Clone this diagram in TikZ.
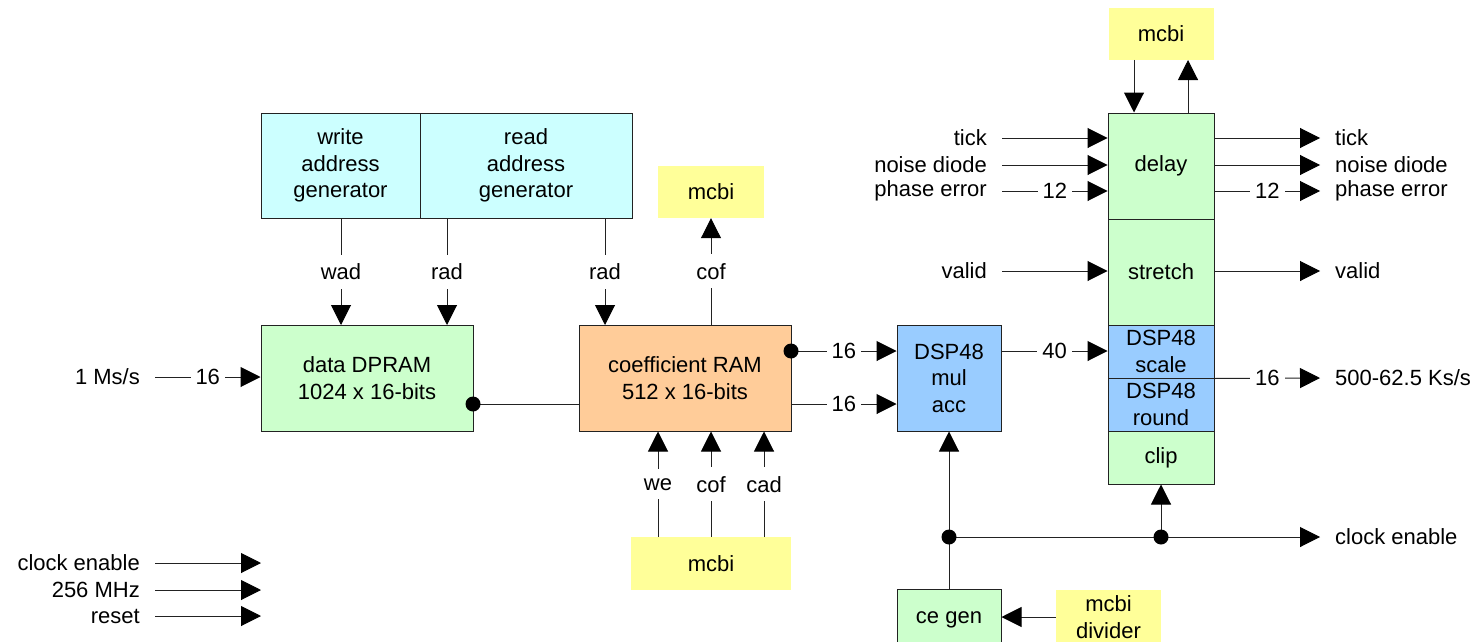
\documentclass[tikz,border=0pt]{standalone}
\usepackage{fontspec}
\setmainfont{Liberation Sans}
\usetikzlibrary{arrows.meta,calc}
\definecolor{cgreen}{HTML}{CCFFCC}
\definecolor{ccyan}{HTML}{CCFFFF}
\definecolor{corange}{HTML}{FFCC99}
\definecolor{cblue}{HTML}{99CCFF}
\definecolor{cyellow}{HTML}{FFFF99}
\definecolor{cline}{HTML}{222222}
\tikzset{
  box/.style={draw=cline, line width=1pt, align=center, inner sep=0pt},
  ybox/.style={fill=cyellow, align=center, inner sep=0pt},
  conn/.style={draw=cline, line width=1pt},
  arr/.style={conn, -{Triangle[length=20pt,width=20pt,fill=black,color=black]}},
  lab/.style={fill=white, inner xsep=5pt, inner ysep=9pt},
  hlab/.style={fill=white, inner xsep=5pt, inner ysep=2pt},
  txt/.style={inner sep=0pt},
  dot/.style={circle, fill=black, inner sep=0pt, minimum size=15pt},
}
\begin{document}
\begin{tikzpicture}[x=1pt,y=-1pt,font=\fontsize{22}{26.5}\selectfont]
\useasboundingbox (0,0) rectangle (1480,642);
% blocks
\node[box, fill=ccyan, minimum width=159pt, minimum height=105pt] (wgen) at (340.5,165.5) {write\\address\\generator};
\node[box, fill=ccyan, minimum width=212pt, minimum height=105pt] (rgen) at (526,165.5) {read\\address\\generator};
\node[box, fill=cgreen, minimum width=212pt, minimum height=106pt] (dpram) at (367,378) {data DPRAM\\1024 x 16-bits};
\node[box, fill=corange, minimum width=212pt, minimum height=106pt] (coef) at (685,378) {coefficient RAM\\512 x 16-bits};
\node[ybox, minimum width=106pt, minimum height=52pt] (mcbiA) at (711,192) {mcbi};
\node[ybox, minimum width=160pt, minimum height=53pt] (mcbiB) at (711,563.5) {mcbi};
\node[box, fill=cblue, minimum width=104pt, minimum height=106pt] (dsp) at (949,378) {DSP48\\mul\\acc};
\node[ybox, minimum width=105pt, minimum height=52pt] (mcbiC) at (1161,34) {mcbi};
\node[box, fill=cgreen, minimum width=106pt, minimum height=106pt] (delay) at (1161,166) {delay};
\node[box, fill=cgreen, minimum width=106pt, minimum height=106pt] (stretch) at (1161,272) {stretch};
\node[box, fill=cblue, minimum width=106pt, minimum height=53pt] (scale) at (1161,351.5) {DSP48\\scale};
\node[box, fill=cblue, minimum width=106pt, minimum height=53pt] (round) at (1161,404.5) {DSP48\\round};
\node[box, fill=cgreen, minimum width=106pt, minimum height=53pt] (clip) at (1161,457.5) {clip};
\node[box, fill=cgreen, minimum width=104pt, minimum height=60pt] (cegen) at (949,619.5) {ce gen};
\node[ybox, minimum width=105pt, minimum height=54pt] (mcbiD) at (1108.5,617) {mcbi\\divider};

% address lines
\coordinate (wadT) at (341,325);
\coordinate (radT) at (447,325);
\coordinate (radC) at (605,325);
\draw[arr] (wgen.south -| wadT) -- node[lab]{wad} (wadT);
\draw[arr] (rgen.south -| radT) -- node[lab]{rad} (radT);
\draw[arr] (rgen.south -| radC) -- node[lab]{rad} (radC);
\draw[arr] (coef.north -| mcbiA.south) -- node[lab]{cof} (mcbiA.south);

% bottom mcbi to coef
\coordinate (weB) at (658,537);
\coordinate (cadB) at (764,537);
\draw[arr] (weB) -- node[lab]{we} (coef.south -| weB);
\draw[arr] (mcbiB.north) -- node[lab]{cof} (coef.south -| mcbiB.north);
\draw[arr] (cadB) -- node[lab]{cad} (coef.south -| cadB);

% data path
\coordinate (d1) at (473,404);
\draw[conn] (d1) -- (coef.west |- d1);
\node[dot] (dotA) at (d1) {};
\node[txt, anchor=east] (ms) at (140,377) {1 Ms/s};
\coordinate (msS) at (155,377);
\draw[arr] (msS) -- node[hlab]{16} (dpram.west |- msS);
\coordinate (c1) at (791,351);
\coordinate (c2) at (791,404);
\draw[arr] (c1) -- node[hlab]{16} (dsp.west |- c1);
\node[dot] (dotB) at (c1) {};
\draw[arr] (c2) -- node[hlab]{16} (dsp.west |- c2);
\draw[arr] (dsp.east |- c1) -- node[hlab]{40} (scale.west |- c1);
\coordinate (o16) at (1320,378);
\draw[arr] (scale.south east) -- node[hlab]{16} (o16);
\node[txt, anchor=west] (ks) at (1335,378) {500-62.5 Ks/s};

% clock enable
\coordinate (ceL) at (949,537);
\coordinate (ceR) at (1161,537);
\coordinate (ceE) at (1320,537);
\draw[arr] (cegen.north) -- (dsp.south);
\draw[arr] (ceL) -- (ceE);
\draw[arr] (ceR) -- (clip.south);
\node[dot] (dotC) at (ceL) {};
\node[dot] (dotD) at (ceR) {};
\node[txt, anchor=west] (ceT) at (1335,537) {clock enable};
\draw[arr] (mcbiD.west |- mcbiD.center) -- (cegen.east |- mcbiD.center);

% mcbi top <-> delay
\coordinate (mdn) at (1134,60);
\coordinate (mup) at (1188,60);
\draw[arr] (mdn) -- (delay.north -| mdn);
\draw[arr] (delay.north -| mup) -- (mup);

% left inputs to right column
\foreach \n/\y/\t in {iTick/138/tick, iNoise/165/noise diode, iValid/271/valid}{
  \node[txt, anchor=east] (\n) at (987,\y) {\t};
  \coordinate (\n s) at (1002,\y);
  \draw[arr] (\n s) -- (delay.west |- \n s);
}
\node[txt, anchor=east] (iPhase) at (987,191) {phase error};
\coordinate (iPhases) at (1002,191);
\draw[arr] (iPhases) -- node[hlab]{12} (delay.west |- iPhases);

% outputs
\foreach \n/\y/\t in {oTick/138/tick, oNoise/165/noise diode, oValid/271/valid}{
  \node[txt, anchor=west] (\n) at (1335,\y) {\t};
  \coordinate (\n e) at (1320,\y);
  \draw[arr] (delay.east |- \n e) -- (\n e);
}
\node[txt, anchor=west] (oPhase) at (1335,191) {phase error};
\coordinate (oPhasee) at (1320,191);
\draw[arr] (delay.east |- oPhasee) -- node[hlab]{12} (oPhasee);

% bottom left
\foreach \n/\y/\t in {bCe/563/clock enable, bClk/590/256 MHz, bRst/616/reset}{
  \node[txt, anchor=east] (\n) at (140,\y) {\t};
  \coordinate (\n s) at (155,\y);
  \coordinate (\n e) at (261,\y);
  \draw[arr] (\n s) -- (\n e);
}
\end{tikzpicture}
\end{document}
